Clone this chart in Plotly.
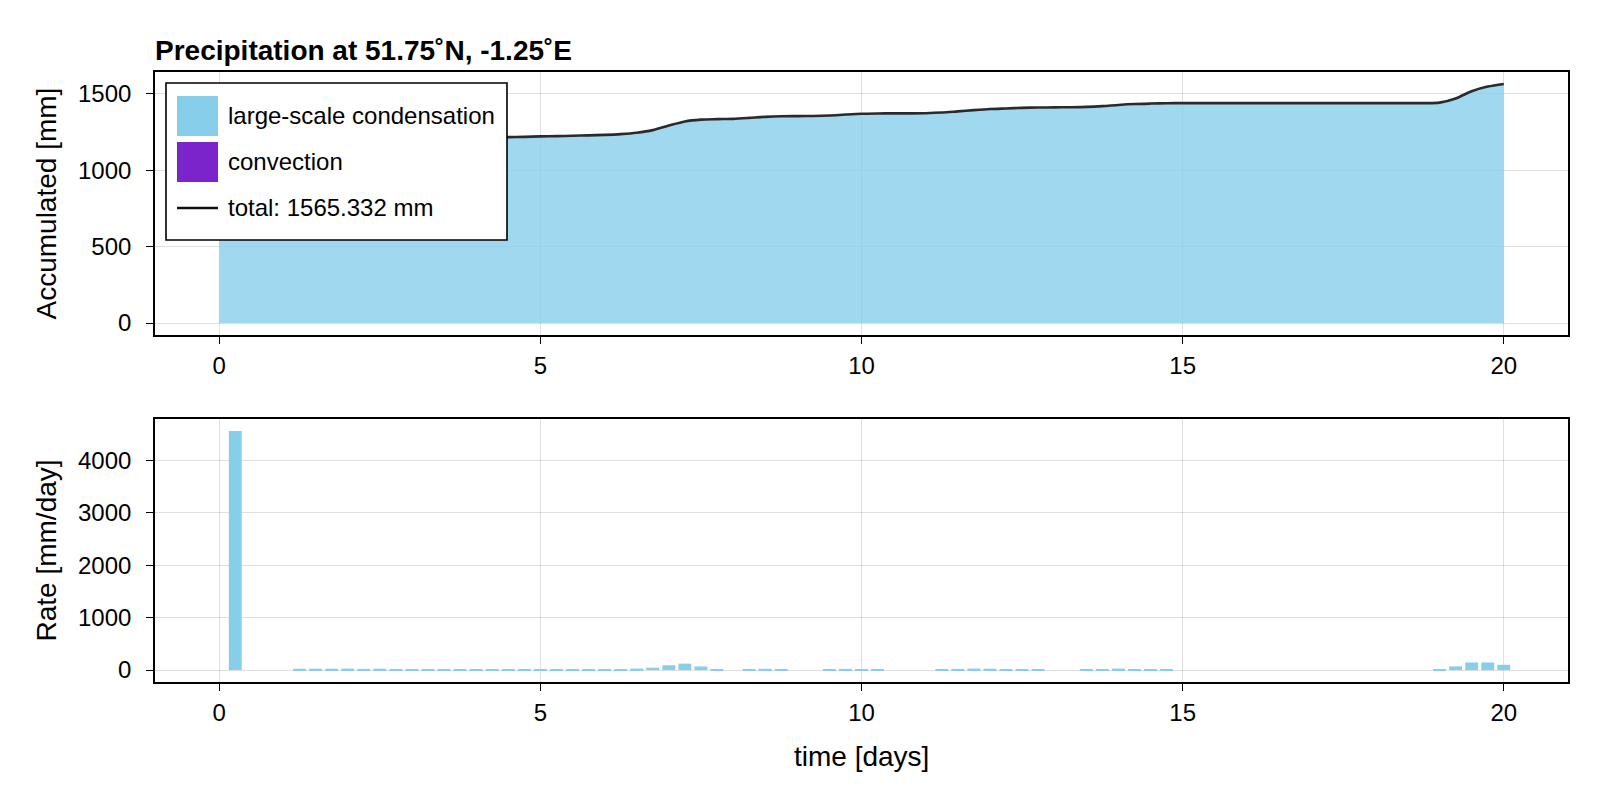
import plotly.graph_objects as go

# ---------------- data ----------------
time_days = [
    0.0, 0.25, 0.5, 0.75, 1.0, 1.25, 1.5, 1.75, 2.0, 2.25, 2.5, 2.75, 3.0, 3.25, 3.5, 3.75, 4.0, 4.25, 4.5, 4.75,
    5.0, 5.25, 5.5, 5.75, 6.0, 6.25, 6.5, 6.75, 7.0, 7.25, 7.5, 7.75, 8.0, 8.25, 8.5, 8.75, 9.0, 9.25, 9.5, 9.75,
    10.0, 10.25, 10.5, 10.75, 11.0, 11.25, 11.5, 11.75, 12.0, 12.25, 12.5, 12.75, 13.0, 13.25, 13.5, 13.75, 14.0, 14.25, 14.5, 14.75,
    15.0, 15.25, 15.5, 15.75, 16.0, 16.25, 16.5, 16.75, 17.0, 17.25, 17.5, 17.75, 18.0, 18.25, 18.5, 18.75, 19.0, 19.25, 19.5, 19.75,
    20.0,
]

# accumulated large-scale condensation [mm]
accum_large_scale = [
    1140, 1141, 1141, 1141, 1147, 1153, 1160, 1167, 1173, 1179, 1185, 1190, 1195, 1199, 1203, 1207, 1210, 1213, 1217, 1219,
    1222, 1224, 1226, 1229, 1232, 1237, 1246, 1263, 1293, 1320, 1332, 1335, 1337, 1343, 1350, 1354, 1355, 1356, 1359, 1365,
    1370, 1372, 1373, 1373, 1374, 1378, 1386, 1394, 1401, 1405, 1409, 1411, 1412, 1413, 1415, 1420, 1428, 1434, 1437, 1439,
    1440, 1440, 1440, 1440, 1440, 1440, 1440, 1440, 1440, 1440, 1440, 1440, 1440, 1440, 1440, 1440, 1443, 1470, 1518, 1548,
    1565.332,
]

# accumulated convection [mm]
accum_convection = [
    0, 0, 0, 0, 0, 0, 0, 0, 0, 0, 0, 0, 0, 0, 0, 0, 0, 0, 0, 0,
    0, 0, 0, 0, 0, 0, 0, 0, 0, 0, 0, 0, 0, 0, 0, 0, 0, 0, 0, 0,
    0, 0, 0, 0, 0, 0, 0, 0, 0, 0, 0, 0, 0, 0, 0, 0, 0, 0, 0, 0,
    0, 0, 0, 0, 0, 0, 0, 0, 0, 0, 0, 0, 0, 0, 0, 0, 0, 0, 0, 0,
    0,
]

# precipitation rate, large-scale condensation [mm/day]
rate_large_scale = [
    0, 4560, 0, 0, 0, 25, 25, 25, 28, 22, 25, 20, 20, 20, 16, 15, 15, 13, 12, 10,
    8, 8, 8, 8, 8, 12, 28, 45, 92, 122, 68, 8, 0, 15, 24, 10, 0, 0, 8, 22,
    12, 6, 0, 0, 0, 7, 22, 28, 25, 12, 12, 7, 0, 0, 2, 10, 28, 17, 8, 4,
    0, 0, 0, 0, 0, 0, 0, 0, 0, 0, 0, 0, 0, 0, 0, 0, 10, 70, 145, 145,
    100,
]

# precipitation rate, convection [mm/day]
rate_convection = [
    0, 0, 0, 0, 0, 0, 0, 0, 0, 0, 0, 0, 0, 0, 0, 0, 0, 0, 0, 0,
    0, 0, 0, 0, 0, 0, 0, 0, 0, 0, 0, 0, 0, 0, 0, 0, 0, 0, 0, 0,
    0, 0, 0, 0, 0, 0, 0, 0, 0, 0, 0, 0, 0, 0, 0, 0, 0, 0, 0, 0,
    0, 0, 0, 0, 0, 0, 0, 0, 0, 0, 0, 0, 0, 0, 0, 0, 0, 0, 0, 0,
    0,
]

x_ticks = [0, 5, 10, 15, 20]
y_ticks_accum = [0, 500, 1000, 1500]
y_ticks_rate = [0, 1000, 2000, 3000, 4000]

title_text = "Precipitation at 51.75˚N, -1.25˚E"
label_ls = "large-scale condensation"
label_conv = "convection"
label_total = f"total: {accum_large_scale[-1] + accum_convection[-1]:.3f} mm"

# ---------------- styles ----------------
PAGE_OFF = 8               # default body margin of the html page
W, H = 1600 - 2 * PAGE_OFF, 800 - 2 * PAGE_OFF
FONT = "Liberation Sans, Arial, Helvetica, sans-serif"
SKY = "#87CEEB"
SKY_A = "rgba(135,206,235,0.8)"
PURPLE = "#7B24CC"
LINE_COL = "#2a2a2a"
GRID = "rgba(0,0,0,0.12)"

total_accum = [a + b for a, b in zip(accum_large_scale, accum_convection)]
stack_conv = [a + b for a, b in zip(accum_large_scale, accum_convection)]


def px_x(p):
    return (p - PAGE_OFF) / W


def px_y(p):
    return 1 - (p - PAGE_OFF) / H


fig = go.Figure()

# top: accumulated
fig.add_trace(go.Scatter(x=time_days, y=accum_large_scale, mode="lines", line=dict(width=0),
                         fill="tozeroy", fillcolor=SKY_A, xaxis="x", yaxis="y", showlegend=False,
                         name=label_ls))
fig.add_trace(go.Scatter(x=time_days, y=stack_conv, mode="lines", line=dict(width=0),
                         fill="tonexty", fillcolor="rgba(123,36,204,0.8)", xaxis="x", yaxis="y",
                         showlegend=False, name=label_conv))
fig.add_trace(go.Scatter(x=time_days, y=total_accum, mode="lines",
                         line=dict(color=LINE_COL, width=2.6, shape="spline", smoothing=0.8),
                         xaxis="x", yaxis="y", showlegend=False, name="total"))

# bottom: rates
fig.add_trace(go.Bar(x=time_days, y=rate_large_scale, width=0.2, marker=dict(color=SKY, line=dict(width=0)),
                     xaxis="x2", yaxis="y2", showlegend=False, name=label_ls))
fig.add_trace(go.Bar(x=time_days, y=rate_convection, base=rate_large_scale, width=0.2,
                     marker=dict(color=PURPLE, line=dict(width=0)),
                     xaxis="x2", yaxis="y2", showlegend=False, name=label_conv))

# frame positions (pixels in the 1600x800 reference)
L, R = 155, 1568
T1, B1 = 72, 335
T2, B2 = 419, 682

axis_common = dict(
    showline=True, linecolor="black", linewidth=1.6, mirror=True,
    ticks="outside", ticklen=7, tickwidth=1.4, tickcolor="black",
    showgrid=True, gridcolor=GRID, gridwidth=1.2, zeroline=False,
    tickfont=dict(family=FONT, size=24, color="black"),
)

fig.update_layout(
    width=W, height=H,
    margin=dict(l=0, r=0, t=0, b=0),
    paper_bgcolor="white", plot_bgcolor="white",
    barmode="overlay",
    showlegend=False,
    xaxis=dict(domain=[px_x(L), px_x(R)], range=[-1, 21], tickvals=x_ticks, anchor="y",
               ticklabelstandoff=1, **axis_common),
    yaxis=dict(domain=[px_y(B1), px_y(T1)], range=[-78.3, 1643.6], tickvals=y_ticks_accum, anchor="x",
               ticklabelstandoff=10, **axis_common),
    xaxis2=dict(domain=[px_x(L), px_x(R)], range=[-1, 21], tickvals=x_ticks, anchor="y2",
                ticklabelstandoff=1, **axis_common),
    yaxis2=dict(domain=[px_y(B2), px_y(T2)], range=[-228, 4788], tickvals=y_ticks_rate, anchor="x2",
                ticklabelstandoff=10, **axis_common),
)

annotations = [
    dict(text=f"<b>{title_text}</b>", x=px_x(L - 2), y=px_y(50), xref="paper", yref="paper",
         xanchor="left", yanchor="middle", showarrow=False, font=dict(family=FONT, size=28, color="black")),
    dict(text="Accumulated [mm]", x=px_x(46), y=px_y((T1 + B1) / 2), xref="paper", yref="paper",
         textangle=-90, xanchor="center", yanchor="middle", showarrow=False,
         font=dict(family=FONT, size=28, color="black")),
    dict(text="Rate [mm/day]", x=px_x(46), y=px_y((T2 + B2) / 2), xref="paper", yref="paper",
         textangle=-90, xanchor="center", yanchor="middle", showarrow=False,
         font=dict(family=FONT, size=28, color="black")),
    dict(text="time [days]", x=px_x((L + R) / 2), y=px_y(756), xref="paper", yref="paper",
         xanchor="center", yanchor="middle", showarrow=False,
         font=dict(family=FONT, size=28, color="black")),
]

# custom legend (Makie style, big square patches)
LG_L, LG_R, LG_T, LG_B = 166, 507, 83, 240
shapes = [
    dict(type="rect", xref="paper", yref="paper", x0=px_x(LG_L), x1=px_x(LG_R), y0=px_y(LG_B), y1=px_y(LG_T),
         fillcolor="white", line=dict(color="black", width=1.6), layer="above"),
    dict(type="rect", xref="paper", yref="paper", x0=px_x(177), x1=px_x(218), y0=px_y(136), y1=px_y(96),
         fillcolor=SKY, line=dict(width=0), layer="above"),
    dict(type="rect", xref="paper", yref="paper", x0=px_x(177), x1=px_x(218), y0=px_y(182), y1=px_y(142),
         fillcolor=PURPLE, line=dict(width=0), layer="above"),
    dict(type="line", xref="paper", yref="paper", x0=px_x(177), x1=px_x(218), y0=px_y(208), y1=px_y(208),
         line=dict(color="#111111", width=2.5), layer="above"),
]
for label, yc in [(label_ls, 116), (label_conv, 161), (label_total, 207)]:
    annotations.append(dict(text=label, x=px_x(226), y=px_y(yc), xref="paper", yref="paper",
                            xanchor="left", yanchor="middle", showarrow=False,
                            font=dict(family=FONT, size=24, color="black")))

fig.update_layout(annotations=annotations, shapes=shapes)

fig.write_html("out.html")
